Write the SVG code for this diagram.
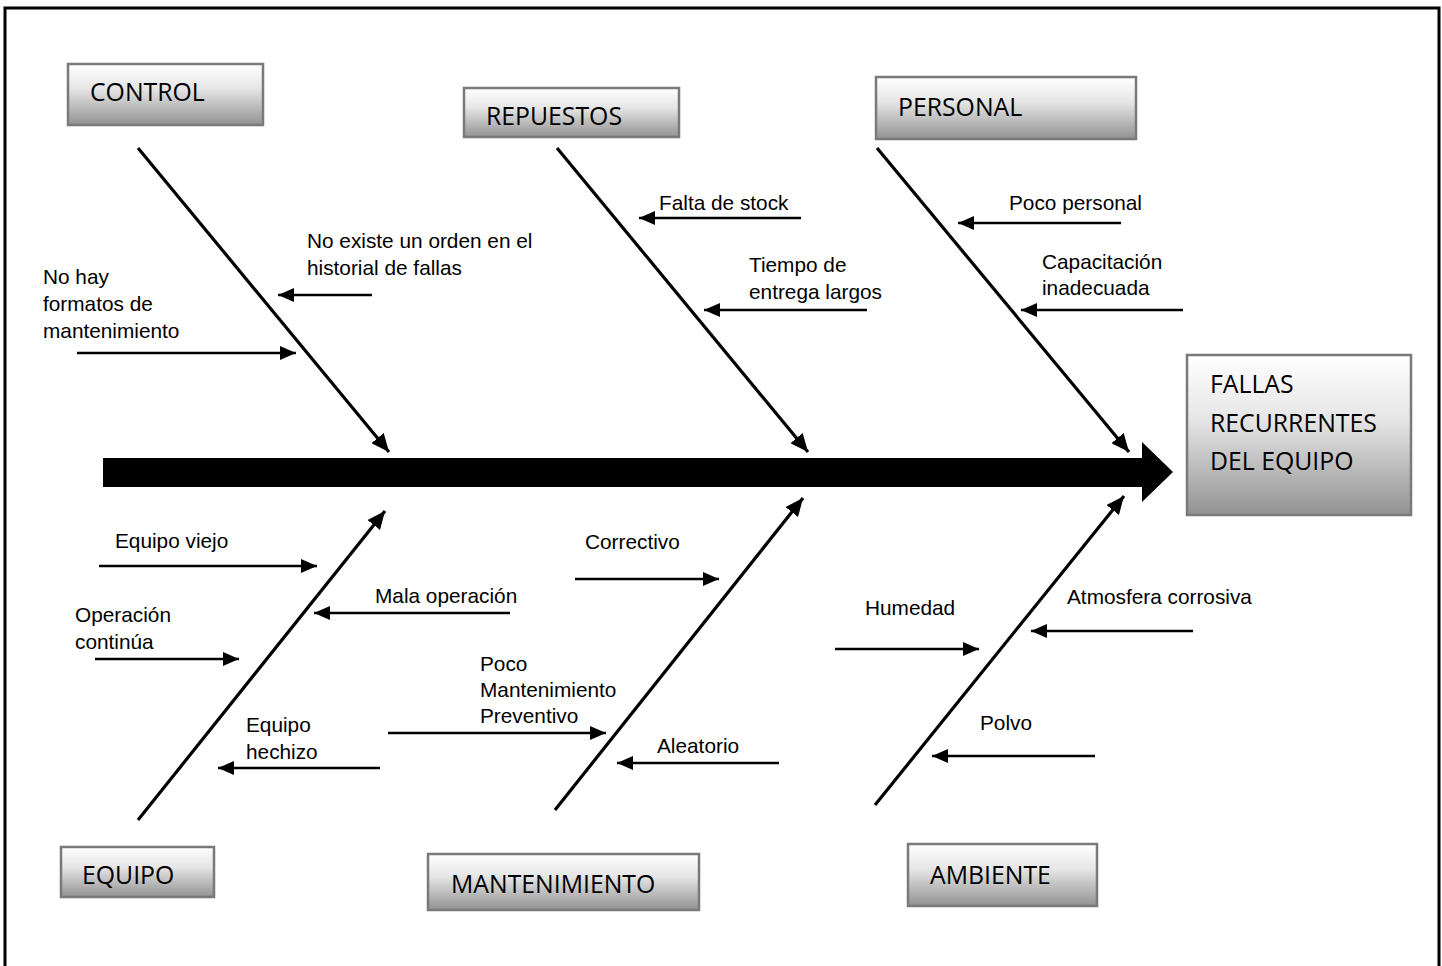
<svg xmlns="http://www.w3.org/2000/svg" width="1442" height="966" viewBox="0 0 1442 966">
<style>
.box{fill:url(#g);stroke:#7a7a7a;stroke-width:2.5}
.bl{font-family:"Open Sans","Liberation Sans",sans-serif;font-size:24.8px;fill:#000}
.lb{font-family:"Liberation Sans",Arial,sans-serif;font-size:20.8px;fill:#000}
.br{stroke:#000;stroke-width:3.2;fill:none;marker-end:url(#mb)}
.sa{stroke:#000;stroke-width:2.4;fill:none;marker-end:url(#ms)}
</style>
<defs>
<linearGradient id="g" x1="0" y1="0" x2="0" y2="1">
<stop offset="0" stop-color="#ffffff"/>
<stop offset="0.4" stop-color="#e6e6e6"/>
<stop offset="1" stop-color="#929292"/>
</linearGradient>
<marker id="ms" markerUnits="userSpaceOnUse" markerWidth="18" markerHeight="14" refX="16" refY="7" orient="auto">
<path d="M0,0 L16,7 L0,14 Z" fill="#000"/>
</marker>
<marker id="mb" markerUnits="userSpaceOnUse" markerWidth="20" markerHeight="16" refX="18" refY="8" orient="auto">
<path d="M0,0 L18,8 L0,16 Z" fill="#000"/>
</marker>
</defs>
<rect x="0" y="0" width="1442" height="966" fill="#fff"/>
<rect x="5" y="8" width="1434" height="990" fill="none" stroke="#000" stroke-width="3"/>

<g id="spine">
<path d="M103,458 L1142,458 L1142,442 L1173,472 L1142,502 L1142,487 L103,487 Z" fill="#000"/>
</g>

<g id="connectors">
<line class="br" x1="138" y1="148" x2="389" y2="452"/>
<line class="br" x1="557" y1="148" x2="808" y2="452"/>
<line class="br" x1="877" y1="148" x2="1129" y2="452"/>
<line class="br" x1="138" y1="820" x2="385" y2="511"/>
<line class="br" x1="555" y1="810" x2="803" y2="498"/>
<line class="br" x1="875" y1="805" x2="1124" y2="496"/>

<line class="sa" x1="372" y1="295" x2="278" y2="295"/>
<line class="sa" x1="77" y1="353" x2="296" y2="353"/>
<line class="sa" x1="801" y1="218" x2="639" y2="218"/>
<line class="sa" x1="867" y1="310" x2="704" y2="310"/>
<line class="sa" x1="1121" y1="223" x2="958" y2="223"/>
<line class="sa" x1="1183" y1="310" x2="1021" y2="310"/>
<line class="sa" x1="99" y1="566" x2="317" y2="566"/>
<line class="sa" x1="510" y1="613" x2="314" y2="613"/>
<line class="sa" x1="95" y1="659" x2="239" y2="659"/>
<line class="sa" x1="380" y1="768" x2="218" y2="768"/>
<line class="sa" x1="575" y1="579" x2="719" y2="579"/>
<line class="sa" x1="388" y1="733" x2="606" y2="733"/>
<line class="sa" x1="779" y1="763" x2="617" y2="763"/>
<line class="sa" x1="835" y1="649" x2="979" y2="649"/>
<line class="sa" x1="1193" y1="631" x2="1031" y2="631"/>
<line class="sa" x1="1095" y1="756" x2="932" y2="756"/>
</g>

<g id="control"><rect class="box" x="68" y="64" width="195" height="61"/><text class="bl" x="90" y="101">CONTROL</text></g>
<g id="repuestos"><rect class="box" x="464" y="88" width="215" height="49"/><text class="bl" x="486" y="125">REPUESTOS</text></g>
<g id="personal"><rect class="box" x="876" y="77" width="260" height="62"/><text class="bl" x="898" y="116">PERSONAL</text></g>
<g id="fallas"><rect class="box" x="1187" y="355" width="224" height="160"/>
<text class="bl" x="1210" y="393">FALLAS</text>
<text class="bl" x="1210" y="432">RECURRENTES</text>
<text class="bl" x="1210" y="470">DEL EQUIPO</text></g>
<g id="equipo"><rect class="box" x="61" y="847" width="153" height="50"/><text class="bl" x="82" y="884">EQUIPO</text></g>
<g id="mantenimiento"><rect class="box" x="428" y="854" width="271" height="56"/><text class="bl" x="451" y="893">MANTENIMIENTO</text></g>
<g id="ambiente"><rect class="box" x="908" y="844" width="189" height="62"/><text class="bl" x="930" y="884">AMBIENTE</text></g>

<g id="labels">
<text class="lb" x="307" y="248">No existe un orden en el</text>
<text class="lb" x="307" y="275">historial de fallas</text>
<text class="lb" x="43" y="284">No hay</text>
<text class="lb" x="43" y="311">formatos de</text>
<text class="lb" x="43" y="338">mantenimiento</text>
<text class="lb" x="659" y="210">Falta de stock</text>
<text class="lb" x="749" y="272">Tiempo de</text>
<text class="lb" x="749" y="299">entrega largos</text>
<text class="lb" x="1009" y="210">Poco personal</text>
<text class="lb" x="1042" y="269">Capacitación</text>
<text class="lb" x="1042" y="295">inadecuada</text>
<text class="lb" x="115" y="548">Equipo viejo</text>
<text class="lb" x="375" y="603">Mala operación</text>
<text class="lb" x="75" y="622">Operación</text>
<text class="lb" x="75" y="649">continúa</text>
<text class="lb" x="246" y="732">Equipo</text>
<text class="lb" x="246" y="759">hechizo</text>
<text class="lb" x="585" y="549">Correctivo</text>
<text class="lb" x="480" y="671">Poco</text>
<text class="lb" x="480" y="697">Mantenimiento</text>
<text class="lb" x="480" y="723">Preventivo</text>
<text class="lb" x="657" y="753">Aleatorio</text>
<text class="lb" x="865" y="615">Humedad</text>
<text class="lb" x="1067" y="604">Atmosfera corrosiva</text>
<text class="lb" x="980" y="730">Polvo</text>
</g>
</svg>
